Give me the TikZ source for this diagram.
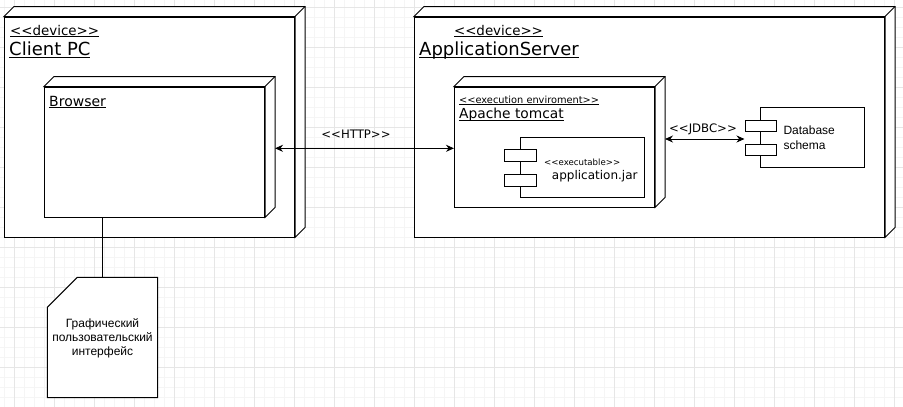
\documentclass[tikz,border=0pt]{standalone}
\usepackage{fontspec}
\usetikzlibrary{arrows.meta,calc}
\newfontfamily\vfont{DejaVu Sans}
\newfontfamily\afont{Liberation Sans}
\definecolor{minorgrid}{HTML}{F5F5F5}
\definecolor{majorgrid}{HTML}{E6E6E6}
\newcommand\ulx[1]{{\setbox0\hbox{#1}\rlap{\rule[-0.17em]{\wd0}{0.9pt}}\box0}}
\newcommand\fsz[1]{\fontsize{#1}{#1}\selectfont}
\newcommand\dthree[1]{%
  \draw[boxline,fill=white] (#1.north west) -- ++(10,-10) -- ([shift={(10,-10)}]#1.north east) -- ([shift={(10,-10)}]#1.south east) -- (#1.south east) -- (#1.north east) -- cycle;
  \draw[boxline] (#1.north east) -- ++(10,-10);}
\tikzset{
  boxline/.style={draw=black, line width=1pt, line join=miter},
  face/.style={boxline, fill=white, rectangle, inner sep=0pt},
  lbl/.style={anchor=base west, inner sep=0pt, text=black},
  clbl/.style={anchor=base, inner sep=0pt, text=black},
  conn/.style={draw=black, line width=1pt},
  biarrow/.style={conn, {Stealth[length=8pt,width=7pt]}-{Stealth[length=8pt,width=7pt]}},
}
\begin{document}
\begin{tikzpicture}[x=1pt,y=-1pt]
\useasboundingbox (0,0) rectangle (903,407);
\fill[white] (0,0) rectangle (903,407);
% grid
\foreach \gx in {4.3,14.3,...,903} \draw[minorgrid, line width=1pt] (\gx,0) -- (\gx,407);
\foreach \gy in {7.3,17.3,...,407} \draw[minorgrid, line width=1pt] (0,\gy) -- (903,\gy);
\foreach \gx in {14.3,54.3,...,903} \draw[majorgrid, line width=1pt] (\gx,0) -- (\gx,407);
\foreach \gy in {7.3,47.3,...,407} \draw[majorgrid, line width=1pt] (0,\gy) -- (903,\gy);

% Client PC
\node[face, minimum width=290pt, minimum height=220pt] (clientpc) at (149.5,127) {};
\dthree{clientpc}
\node[face, minimum width=220pt, minimum height=130pt] (browser) at (154.5,152) {};
\dthree{browser}

% Application server
\node[face, minimum width=470pt, minimum height=220pt] (appserver) at (649.5,127) {};
\dthree{appserver}
\node[face, minimum width=200pt, minimum height=120pt] (tomcat) at (554.5,147) {};
\dthree{tomcat}

% application.jar component
\node[face, minimum width=124pt, minimum height=60pt] (jar) at (582.5,167.5) {};
\node[face, minimum width=32pt, minimum height=12pt] (jarp1) at (520.5,155.5) {};
\node[face, minimum width=32pt, minimum height=12pt] (jarp2) at (520.5,180) {};

% database component
\node[face, minimum width=104pt, minimum height=60pt] (db) at (812,137.5) {};
\node[face, minimum width=31pt, minimum height=11.5pt] (dbp1) at (760.5,125.75) {};
\node[face, minimum width=31pt, minimum height=11.5pt] (dbp2) at (760.5,149.75) {};

% note
\node[inner sep=0pt, minimum width=110pt, minimum height=120pt] (note) at (102.5,337.5) {};
\draw[boxline, fill=white] ([xshift=30pt]note.north west) -- (note.north east) -- (note.south east) -- (note.south west) -- ([yshift=-30pt]note.north west) -- cycle;

% connectors
\coordinate (httpL) at ($(browser.east)+(10,-3.7)$);
\draw[biarrow] (httpL) -- (httpL -| tomcat.west);
\coordinate (jdbcL) at ($(tomcat.east)+(10,-8)$);
\draw[biarrow] (jdbcL) -- (jdbcL -| dbp1.west);
\draw[conn] (browser.south -| note.north) -- (note.north);

% texts
\node[lbl] (cpdev) at (10,35) {\vfont\fsz{13.4}\ulx{<{}<device>{}>}};
\node[lbl] (cpname) at (9,55) {\vfont\fsz{18}\ulx{Client PC}};
\node[lbl] (brname) at (49,106) {\vfont\fsz{14}\ulx{Browser}};
\node[clbl] (asdev) at (498.5,35) {\vfont\fsz{13.4}\ulx{<{}<device>{}>}};
\node[lbl] (asname) at (419,55) {\vfont\fsz{18}\ulx{ApplicationServer}};
\node[lbl] (tcdev) at (459,103.3) {\vfont\fsz{9.8}\ulx{<{}<execution enviroment>{}>}};
\node[lbl] (tcname) at (459,118.3) {\vfont\fsz{13.8}\ulx{Apache tomcat}};
\node[lbl] (jarst) at (544,165) {\vfont\fsz{8.6}<{}<executable>{}>};
\node[lbl] (jarname) at (551.7,179.3) {\vfont\fsz{12}application.jar};
\node[lbl] (db1) at (783.3,134.3) {\afont\fsz{12}Database};
\node[lbl] (db2) at (783.3,149.3) {\afont\fsz{12}schema};
\node[clbl] (http) at (356,138.7) {\vfont\fsz{11.7}<{}<HTTP>{}>};
\node[clbl] (jdbc) at (703,132.7) {\vfont\fsz{11.7}<{}<JDBC>{}>};
\node[clbl] (n1) at (102.5,327.3) {\afont\fsz{12}Графический};
\node[clbl] (n2) at (102.5,341.7) {\afont\fsz{12}пользовательский};
\node[clbl] (n3) at (102.5,355.7) {\afont\fsz{12}интерфейс};
\end{tikzpicture}
\end{document}
